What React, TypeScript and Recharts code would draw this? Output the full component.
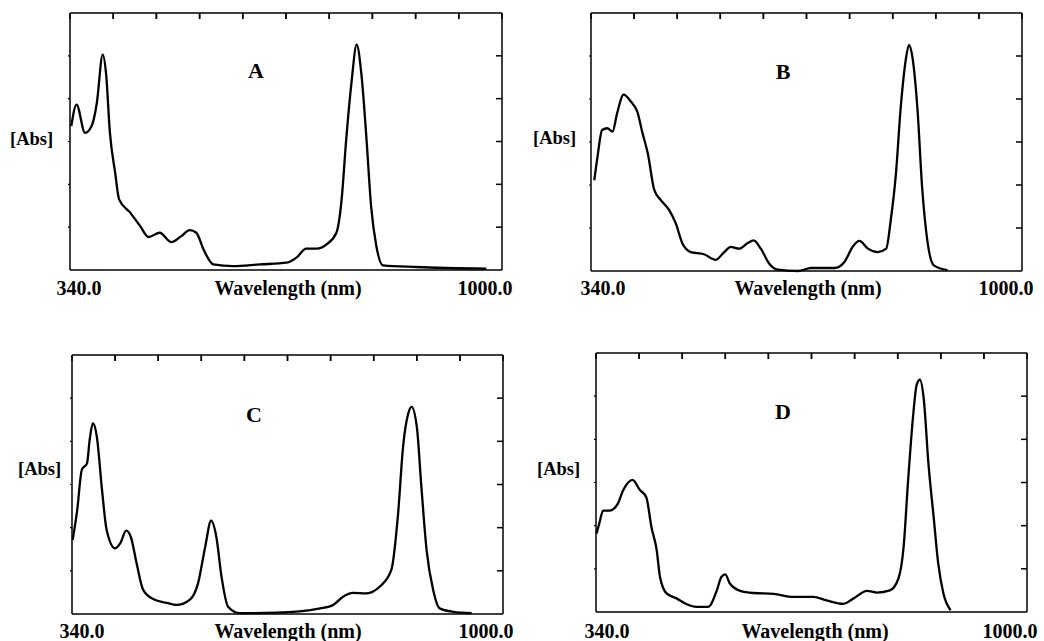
import { LineChart, Line, XAxis, YAxis, CartesianGrid } from 'recharts';

// x ticks along the top edge, y ticks on the left and right edges
const xTicks = [406, 472, 538, 604, 670, 736, 802, 868, 934];
const yTicks = [1, 2, 3, 4, 5];

const wlA = [342, 350, 363, 373, 381, 390, 395, 401, 409, 415, 432, 447, 460, 477, 495, 510, 523, 533, 544, 559, 589, 630, 671, 686, 701, 717, 732, 747, 755, 762, 770, 778, 785, 793, 800, 808, 818, 869, 976];
const absA = [3.36, 3.86, 3.2, 3.36, 3.9, 5.03, 4.6, 3.2, 2.27, 1.65, 1.34, 1.03, 0.77, 0.87, 0.65, 0.79, 0.93, 0.87, 0.48, 0.13, 0.09, 0.13, 0.17, 0.29, 0.5, 0.5, 0.6, 0.87, 1.65, 3.05, 4.37, 5.26, 4.6, 3.05, 1.49, 0.56, 0.11, 0.07, 0.03];

const wlB = [345, 350, 357, 365, 373, 380, 390, 401, 411, 419, 427, 437, 447, 460, 470, 480, 493, 513, 531, 544, 554, 567, 580, 589, 600, 613, 626, 657, 677, 713, 728, 741, 751, 764, 779, 792, 799, 807, 814, 822, 827, 832, 840, 847, 855, 865, 886];
const absB = [2.11, 2.66, 3.28, 3.32, 3.24, 3.67, 4.1, 3.94, 3.7, 3.2, 2.73, 1.88, 1.65, 1.41, 1.1, 0.64, 0.44, 0.39, 0.26, 0.44, 0.56, 0.52, 0.65, 0.71, 0.52, 0.17, 0.03, 0.0, 0.07, 0.07, 0.21, 0.57, 0.7, 0.52, 0.44, 0.52, 1.18, 2.27, 3.75, 4.91, 5.26, 4.99, 3.75, 1.96, 0.71, 0.13, 0.02];

const wlC = [341, 348, 355, 363, 367, 372, 378, 386, 393, 406, 414, 423, 430, 439, 449, 465, 485, 500, 521, 533, 544, 553, 561, 569, 579, 597, 653, 720, 740, 755, 770, 791, 811, 829, 839, 847, 855, 860, 868, 875, 883, 893, 903, 924, 952];
const absC = [1.71, 2.41, 3.34, 3.49, 4.03, 4.42, 4.11, 2.87, 1.95, 1.52, 1.64, 1.93, 1.79, 1.17, 0.56, 0.34, 0.26, 0.21, 0.34, 0.71, 1.56, 2.16, 1.79, 0.86, 0.17, 0.02, 0.03, 0.13, 0.21, 0.4, 0.49, 0.48, 0.63, 1.02, 2.26, 3.88, 4.65, 4.8, 4.34, 2.95, 1.48, 0.56, 0.13, 0.05, 0.02];

const wlD = [341, 345, 351, 361, 373, 382, 396, 407, 417, 425, 433, 438, 448, 464, 479, 494, 512, 525, 532, 538, 545, 561, 581, 612, 642, 673, 693, 719, 734, 755, 770, 790, 803, 811, 818, 826, 831, 836, 842, 849, 857, 864, 872, 883];
const absD = [1.82, 2.05, 2.35, 2.35, 2.5, 2.83, 3.06, 2.83, 2.66, 1.96, 1.43, 0.81, 0.43, 0.31, 0.18, 0.12, 0.12, 0.5, 0.81, 0.87, 0.66, 0.49, 0.44, 0.42, 0.35, 0.35, 0.27, 0.19, 0.31, 0.49, 0.45, 0.5, 0.77, 1.5, 3.06, 4.61, 5.26, 5.38, 4.92, 3.45, 2.21, 1.13, 0.43, 0.04];

const font = '"Liberation Serif", "DejaVu Serif", serif';
const M = 6;
const Y_MAX = 6;
const frame = { stroke: '#000', strokeWidth: 1.5 };
const noLabel = () => <g />;

type Box = { x: number; y: number; w: number; h: number };

const txt = (s: string, x: number, y: number, size: number, anchor = 'center') => (
  <div
    style={{
      position: 'absolute',
      left: anchor === 'center' ? x - 100 : x,
      top: y - size * 0.6,
      width: anchor === 'center' ? 200 : undefined,
      textAlign: anchor === 'center' ? 'center' : 'left',
      fontFamily: font,
      fontWeight: 'bold',
      fontSize: size,
      lineHeight: `${size * 1.2}px`,
      whiteSpace: 'nowrap',
      color: '#000',
    }}
  >
    {s}
  </div>
);

const Panel = ({ letter, wl, abs, box, absX, absY, lblY, x340, xWave, x1000, letterX, letterY }: any) => {
  const data = wl.map((w: number, i: number) => ({ wl: w, abs: abs[i] }));
  const b: Box = box;
  return (
    <>
      <div style={{ position: 'absolute', left: b.x - M, top: b.y - M }}>
        <LineChart width={b.w + 2 * M} height={b.h + 2 * M} data={data} margin={{ top: M, right: M, bottom: M - 1, left: M - 1 }}>
          {/* short dashes of the vertical grid give the inward ticks under the top edge */}
          <CartesianGrid xAxisId="bottom" yAxisId="left" horizontal={false} vertical stroke="#000" strokeWidth={1.5} strokeDasharray="6 2000" />
          <XAxis xAxisId="bottom" type="number" dataKey="wl" domain={[340, 1000]} ticks={xTicks} interval={0} tick={noLabel} tickLine={false} height={1} axisLine={frame} />
          <XAxis xAxisId="top" orientation="top" mirror type="number" dataKey="wl" domain={[340, 1000]} ticks={xTicks} interval={0} tick={noLabel} tickSize={6} height={1} axisLine={frame} tickLine={frame} />
          <YAxis yAxisId="left" type="number" domain={[0, Y_MAX]} ticks={yTicks} interval={0} tick={noLabel} tickSize={2} width={1} axisLine={frame} tickLine={{ stroke: '#000', strokeWidth: 1.2 }} />
          <YAxis yAxisId="right" orientation="right" mirror type="number" domain={[0, Y_MAX]} ticks={yTicks} interval={0} tick={noLabel} tickSize={6} width={1} axisLine={frame} tickLine={frame} />
          {/* same spectrum bound to the bottom/left pair so those axes get their scale too */}
          <Line xAxisId="bottom" yAxisId="left" type="monotone" dataKey="abs" stroke="none" dot={false} activeDot={false} isAnimationActive={false} />
          <Line xAxisId="top" yAxisId="right" type="monotone" dataKey="abs" stroke="#000" strokeWidth={2.3} dot={false} isAnimationActive={false} />
        </LineChart>
      </div>
      {txt('[Abs]', absX, absY, 18.5, 'left')}
      {txt('340.0', x340, lblY, 20)}
      {txt('Wavelength (nm)', xWave, lblY, 20)}
      {txt('1000.0', x1000, lblY, 20)}
      {txt(letter, letterX, letterY, 22)}
    </>
  );
};

export default function App() {
  return (
    <div style={{ position: 'absolute', left: 0, top: 0, width: 1044, height: 641, background: '#fff', overflow: 'hidden' }}>
      <Panel letter="A" wl={wlA} abs={absA} box={{ x: 70, y: 13, w: 432, h: 257 }} absX={10} absY={139} lblY={288} x340={79} xWave={288} x1000={485} letterX={256} letterY={71} />
      <Panel letter="B" wl={wlB} abs={absB} box={{ x: 591, y: 13, w: 431, h: 258 }} absX={533} absY={138} lblY={288} x340={603} xWave={808} x1000={1006} letterX={783} letterY={72} />
      <Panel letter="C" wl={wlC} abs={absC} box={{ x: 72, y: 355, w: 431, h: 259 }} absX={18} absY={469} lblY={631} x340={82} xWave={288} x1000={486} letterX={254} letterY={415} />
      <Panel letter="D" wl={wlD} abs={absD} box={{ x: 596, y: 353, w: 431, h: 259 }} absX={537} absY={469} lblY={631} x340={607} xWave={815} x1000={1010} letterX={783} letterY={412} />
    </div>
  );
}
